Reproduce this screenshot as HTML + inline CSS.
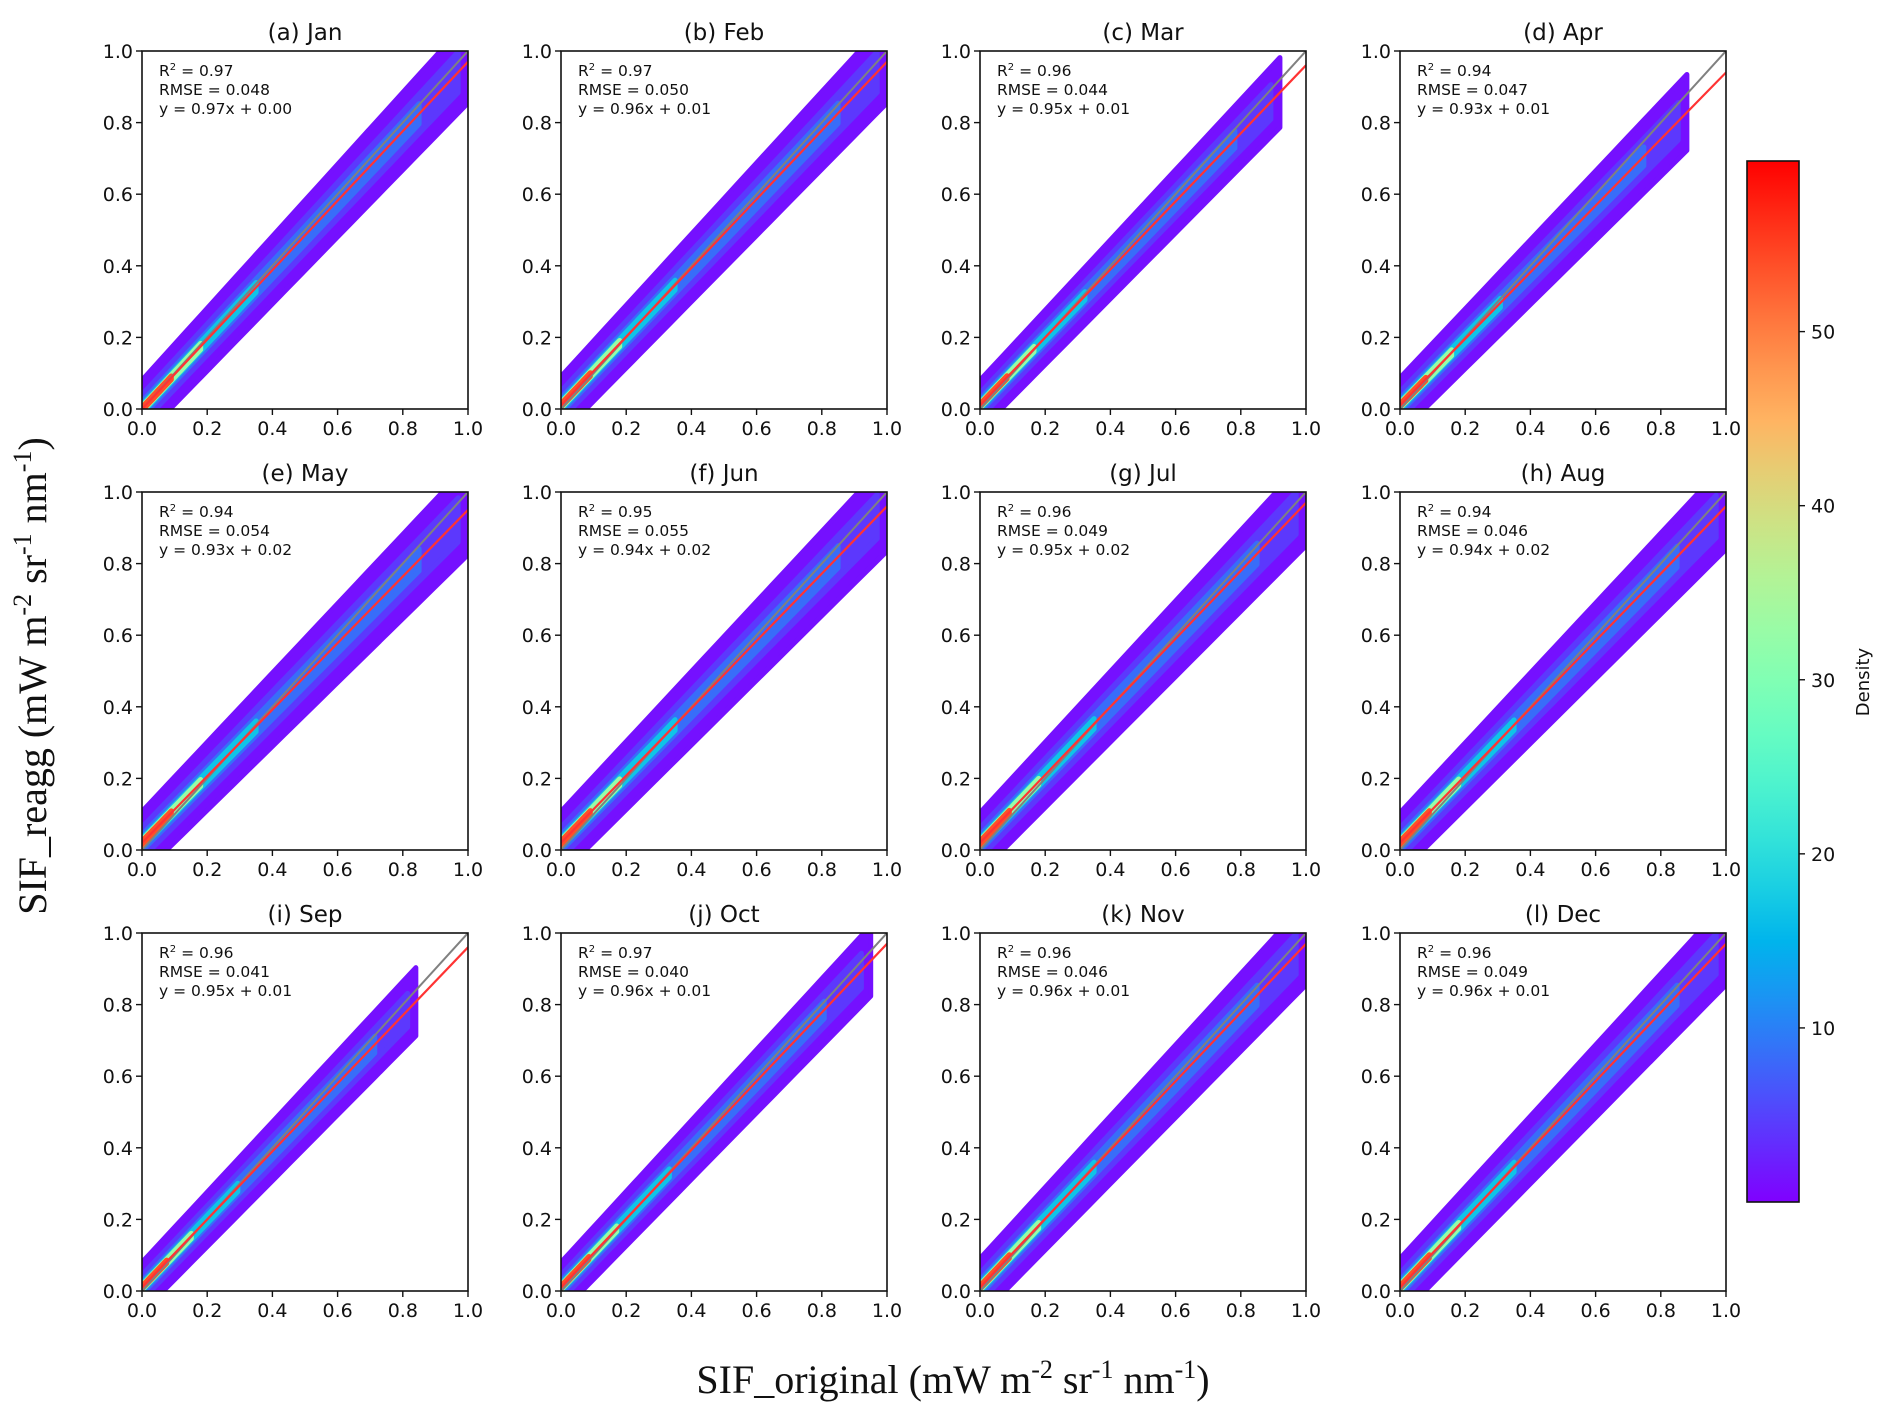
<!DOCTYPE html>
<html><head><meta charset="utf-8"><style>
html,body{margin:0;padding:0;background:#fff;}
svg{display:block;}
</style></head><body>
<svg id="fig" width="1892" height="1422" viewBox="0 0 1892 1422" xmlns="http://www.w3.org/2000/svg" font-family="'DejaVu Sans', 'Liberation Sans', sans-serif">
<defs>
<linearGradient id="cbgrad" x1="0" y1="1" x2="0" y2="0"></linearGradient>
</defs>
<g id="panels"></g>
<g id="cbar"></g>
<text transform="translate(46,676) rotate(-90)" text-anchor="middle" font-family="'Liberation Serif', serif" font-size="40" fill="#111">SIF_reagg (mW m<tspan font-size="26" dy="-15">-2</tspan><tspan dy="15"> sr</tspan><tspan font-size="26" dy="-15">-1</tspan><tspan dy="15"> nm</tspan><tspan font-size="26" dy="-15">-1</tspan><tspan dy="15">)</tspan></text>
<text x="953" y="1393" text-anchor="middle" font-family="'Liberation Serif', serif" font-size="40" fill="#111">SIF_original (mW m<tspan font-size="26" dy="-15">-2</tspan><tspan dy="15"> sr</tspan><tspan font-size="26" dy="-15">-1</tspan><tspan dy="15"> nm</tspan><tspan font-size="26" dy="-15">-1</tspan><tspan dy="15">)</tspan></text>
</svg>
<script>
const titles=["(a) Jan","(b) Feb","(c) Mar","(d) Apr","(e) May","(f) Jun","(g) Jul","(h) Aug","(i) Sep","(j) Oct","(k) Nov","(l) Dec"];
const r2=["0.97","0.97","0.96","0.94","0.94","0.95","0.96","0.94","0.96","0.97","0.96","0.96"];
const rmse=["0.048","0.050","0.044","0.047","0.054","0.055","0.049","0.046","0.041","0.040","0.046","0.049"];
const slopes=[0.97,0.96,0.95,0.93,0.93,0.94,0.95,0.94,0.95,0.96,0.96,0.96];
const intercepts=[0.00,0.01,0.01,0.01,0.02,0.02,0.02,0.02,0.01,0.01,0.01,0.01];
const cloudMax=[1.0,1.0,0.92,0.88,1.0,1.0,1.0,1.0,0.84,0.95,1.0,1.0];
const cloudSpread=[0.115,0.115,0.10,0.11,0.125,0.125,0.12,0.12,0.10,0.10,0.115,0.115];
const ticks=[0,0.2,0.4,0.6,0.8,1.0];
const tickLabels=["0.0","0.2","0.4","0.6","0.8","1.0"];
const cbTicks=[10,20,30,40,50];
const cbMax=59.8;

const NS="http://www.w3.org/2000/svg";
const colX=[142,561,980,1400], rowY=[51,492,933], W=326, H=358;
function mk(tag,attrs,parent){const e=document.createElementNS(NS,tag);for(const k in attrs)e.setAttribute(k,attrs[k]);if(parent)parent.appendChild(e);return e;}
function rainbow(t){const r=Math.min(1,Math.abs(2*t-0.5)),g=Math.sin(Math.PI*t),b=Math.cos(Math.PI*t/2);return `rgb(${Math.round(r*255)},${Math.round(g*255)},${Math.round(b*255)})`;}

const panels=document.getElementById('panels');
for(let i=0;i<12;i++){
  const x0=colX[i%4], y0=rowY[Math.floor(i/4)];
  const sx=v=>x0+v*W, sy=v=>y0+H-v*H;
  const g=mk('g',{},panels);
  
  
  const cp=mk('clipPath',{id:'cp'+i},g);
  mk('rect',{x:x0,y:y0,width:W,height:H},cp);
  const cloud=mk('g',{'clip-path':`url(#cp${i})`},g);
  
  
  const s=slopes[i], b=intercepts[i], xm=cloudMax[i], w=cloudSpread[i];
  const layers=[[1.0,0.02,1],[0.5,0.07,0.97],[0.26,0.14,0.85],[0.15,0.28,0.35],[0.1,0.55,0.18],[0.06,0.9,0.09]];
  layers.forEach(([f,t,xf])=>{
    const xe=xm*xf, ww=w*f;
    const pts=[];
    for(let k=0;k<=20;k++){const x=-0.02+(xe+0.02)*k/20;pts.push(sx(x)+','+sy(s*x+b+ww*(1-0.3*(1-x))));}
    for(let k=20;k>=0;k--){const x=-0.02+(xe+0.02)*k/20;pts.push(sx(x)+','+sy(s*x+b-ww*(1-0.3*(1-x))));}
    const p=mk('polygon',{points:pts.join(' '),fill:rainbow(t),'stroke':rainbow(t),'stroke-width':5,'stroke-linejoin':'round'},cloud);
    
    
  });
  const one=mk('line',{x1:sx(0),y1:sy(0),x2:sx(1),y2:sy(1),stroke:'#808080','stroke-width':2},cloud);
  
  
  const fit=mk('line',{x1:sx(0),y1:sy(b),x2:sx(1),y2:sy(s+b),stroke:'#ff3333','stroke-width':2.2},cloud);
  
  
  const frame=mk('rect',{x:x0,y:y0,width:W,height:H,fill:'none',stroke:'#111','stroke-width':1.6},g);
  
  
  ticks.forEach((v,k)=>{
    mk('line',{x1:sx(v),y1:y0+H,x2:sx(v),y2:y0+H+6,stroke:'#111','stroke-width':1.4},g);
    const tx=mk('text',{x:sx(v),y:y0+H+26,'text-anchor':'middle','font-size':19,fill:'#111'},g);
    tx.textContent=tickLabels[k];
    
    
    mk('line',{x1:x0-6,y1:sy(v),x2:x0,y2:sy(v),stroke:'#111','stroke-width':1.4},g);
    const ty=mk('text',{x:x0-9,y:sy(v)+7,'text-anchor':'end','font-size':19,fill:'#111'},g);
    ty.textContent=tickLabels[k];
    
    
  });
  const tt=mk('text',{x:x0+W/2,y:y0-11,'text-anchor':'middle','font-size':23,fill:'#111'},g);
  tt.textContent=titles[i];
  
  
  const an=mk('text',{x:x0+17,y:y0+25,'font-size':15.5,fill:'#111'},g);
  
  
  an.innerHTML=`R<tspan font-size="10" dy="-6">2</tspan><tspan dy="6"> = ${r2[i]}</tspan>`;
  const a2=mk('text',{x:x0+17,y:y0+44,'font-size':15.5,fill:'#111'},g);
  a2.textContent='RMSE = '+rmse[i];
  
  
  const a3=mk('text',{x:x0+17,y:y0+63,'font-size':15.5,fill:'#111'},g);
  a3.textContent=`y = ${slopes[i].toFixed(2)}x + ${intercepts[i].toFixed(2)}`;
  
  
}

// colorbar
const grad=document.getElementById('cbgrad');
for(let k=0;k<=20;k++){mk('stop',{offset:(k/20),'stop-color':rainbow(k/20)},grad);}
const cb=document.getElementById('cbar');
const cbx=1747, cbTop=161, cbBot=1202, cbW=52;
const cy=v=>cbBot-(v/cbMax)*(cbBot-cbTop);
mk('rect',{x:cbx,y:cbTop,width:cbW,height:cbBot-cbTop,fill:'url(#cbgrad)',stroke:'#111','stroke-width':1.6},cb);
cbTicks.forEach(v=>{
  mk('line',{x1:cbx+cbW,y1:cy(v),x2:cbx+cbW+6,y2:cy(v),stroke:'#111','stroke-width':1.4},cb);
  const t=mk('text',{x:cbx+cbW+12,y:cy(v)+7,'font-size':19,fill:'#111'},cb);
  t.textContent=v;
  
  
});
const dl=mk('text',{transform:'translate(1869,682) rotate(-90)','text-anchor':'middle','font-size':18,fill:'#111'},cb);
dl.textContent='Density';


</script>
</body></html>
